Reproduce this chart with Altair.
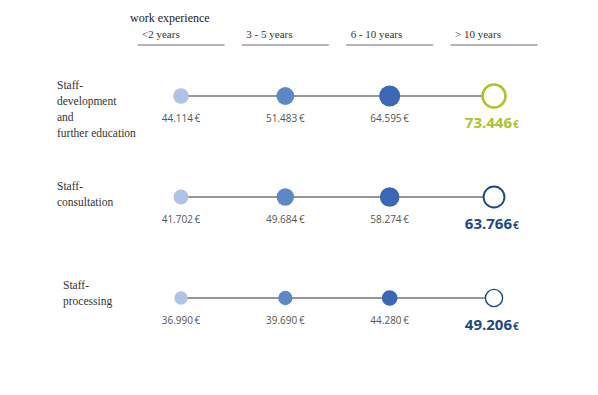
import altair as alt
import pandas as pd

# ---- data ----
experience = ["<2 years", "3 - 5 years", "6 - 10 years", "> 10 years"]
rows = ["Staff-development and further education", "Staff-consultation", "Staff-processing"]
row_label_lines = [
    ["Staff-", "development", "and", "further education"],
    ["Staff-", "consultation"],
    ["Staff-", "processing"],
]
salary_development = [44114, 51483, 64595, 73446]
salary_consultation = [41702, 49684, 58274, 63766]
salary_processing = [36990, 39690, 44280, 49206]
title_text = "work experience"

all_salaries = [salary_development, salary_consultation, salary_processing]

def fmt(v):
    return f"{v:,}".replace(",", ".")

recs = []
for r, vals in zip(rows, all_salaries):
    for e, v in zip(experience, vals):
        recs.append({"row": r, "exp": e, "value": v, "label": fmt(v) + "\u2009€",
                     "num": fmt(v), "last": e == experience[-1]})
df = pd.DataFrame(recs)
df_filled = df[~df["last"]]
df_last = df[df["last"]]
df_rows = pd.DataFrame({"row": rows, "lines": row_label_lines})
df_exp = pd.DataFrame({"exp": experience})

xs = alt.Scale(type="point", domain=experience, range=[173, 486], padding=0)
ys = alt.Scale(type="point", domain=rows, range=[88, 290], padding=0)
size_s = alt.Scale(domain=[36990, 73446], range=[177, 531])
X = alt.X("exp:N", scale=xs, axis=None)
Y = alt.Y("row:N", scale=ys, axis=None)

fill_scale = alt.Scale(domain=experience[:3], range=["#b0c3e3", "#5e88c5", "#3b68b5"])
last_scale = alt.Scale(domain=rows, range=["#a9c42c", "#1d4a86", "#1d4a86"])

line = alt.Chart(df).mark_line(color="#2e2e2e", strokeWidth=1.1).encode(
    x=X, y=Y, detail="row:N")

filled = alt.Chart(df_filled).mark_circle(opacity=1).encode(
    x=X, y=Y,
    size=alt.Size("value:Q", scale=size_s, legend=None),
    color=alt.Color("exp:N", scale=fill_scale, legend=None))

last = alt.Chart(df_last).mark_point(filled=True, fill="white", fillOpacity=1, opacity=1,
                                     shape="circle").encode(
    x=X, y=Y,
    size=alt.Size("value:Q", scale=size_s, legend=None),
    stroke=alt.Stroke("row:N", scale=last_scale, legend=None),
    strokeWidth=alt.StrokeWidth("row:N", scale=alt.Scale(domain=rows, range=[2.5, 1.4, 1.4]), legend=None))

vlabels = alt.Chart(df_filled).mark_text(font="Open Sans", fontSize=10, color="#555555",
                                         baseline="middle", dy=23).encode(
    x=X, y=Y, text="label:N")

lastnum = alt.Chart(df_last).mark_text(font="Open Sans", fontSize=15, fontWeight="bold",
                                       align="right", baseline="middle", dx=18, dy=27).encode(
    x=X, y=Y, text="num:N",
    color=alt.Color("row:N", scale=last_scale, legend=None))

lasteur = alt.Chart(df_last).mark_text(font="Open Sans", fontSize=10, fontWeight="bold",
                                       align="left", baseline="middle", dx=19, dy=29).encode(
    x=X, y=Y, text=alt.value("€"),
    color=alt.Color("row:N", scale=last_scale, legend=None))

rowlabels_a = alt.Chart(df_rows).transform_filter(
    alt.datum.row != rows[2]
).mark_text(font="Liberation Serif", fontSize=11.5, color="#333333",
            align="left", baseline="top", lineHeight=16, dy=-16).encode(
    x=alt.value(49), y=Y, text="lines")

rowlabels_b = alt.Chart(df_rows).transform_filter(
    alt.datum.row == rows[2]
).mark_text(font="Liberation Serif", fontSize=11.5, color="#333333",
            align="left", baseline="top", lineHeight=16, dy=-18).encode(
    x=alt.value(55), y=Y, text="lines")

headers = alt.Chart(df_exp).mark_text(font="Liberation Serif", fontSize=11, color="#333333",
                                      align="left", baseline="middle", dx=-39).encode(
    x=X, y=alt.value(27), text="exp:N")

hlines = alt.Chart(df_exp).mark_tick(orient="horizontal", size=87, thickness=1,
                                     color="#2e2e2e").encode(
    x=X, y=alt.value(37))

title = alt.Chart(pd.DataFrame({"t": [title_text]})).mark_text(
    font="Liberation Serif", fontSize=12, color="#222222", align="left", baseline="middle").encode(
    x=alt.value(122), y=alt.value(10), text="t:N")

chart = alt.layer(line, filled, last, vlabels, lastnum, lasteur, rowlabels_a, rowlabels_b,
                  headers, hlines, title).resolve_scale(
    color="independent", stroke="independent"
).properties(
    width=582, height=379, autosize=alt.AutoSizeParams(type="none"), padding=0
).configure_view(stroke=None)

chart.save("out.html", embed_options={"renderer": "svg", "actions": False})
